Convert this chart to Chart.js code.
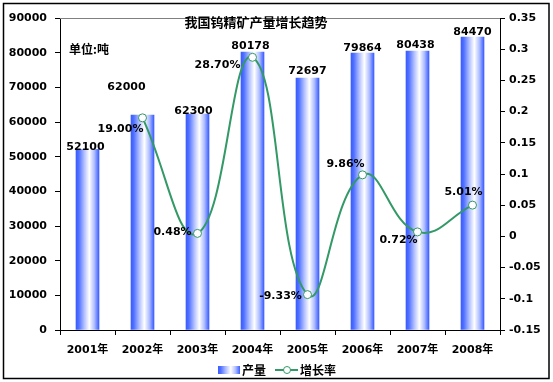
<!DOCTYPE html>
<html>
<head>
<meta charset="utf-8">
<script src="https://cdn.jsdelivr.net/npm/chart.js@4"></script>
<style>
html,body{margin:0;padding:0;background:#fff;}
#wrap{width:553px;height:382px;position:relative;}
</style>
</head>
<body>
<div id="wrap"><canvas id="c" width="553" height="382"></canvas></div>
<script>
// ---- data ----
const categories = ['2001年','2002年','2003年','2004年','2005年','2006年','2007年','2008年'];
const output = [52100, 62000, 62300, 80178, 72697, 79864, 80438, 84470];
const growth = [null, 0.19, 0.0048, 0.287, -0.0933, 0.0986, 0.0072, 0.0501];
const growthLabels = [null, '19.00%', '0.48%', '28.70%', '-9.33%', '9.86%', '0.72%', '5.01%'];
const titleText = '我国钨精矿产量增长趋势';
const unitText = '单位:吨';
const legendNames = ['产量', '增长率'];

// ---- style (label offsets, px) ----
const barLabelOffsets = [[-2,-2],[-16,-27],[-4,-2],[-2,-5],[0,-6],[0,-4],[-2,-6],[0,-5]];
const lineLabelOffsets = [null,[-22,11],[-25,-1],[-35,8],[-27,2],[-17,-11],[-19,8],[-9,-13]];

const GREEN = '#339966';
const FONT = '"DejaVu Sans","Noto Sans CJK SC",sans-serif';
const CJK = '"Noto Sans CJK SC","DejaVu Sans",sans-serif';

function barGradient(ctx, x0, w) {
  const g = ctx.createLinearGradient(x0, 0, x0 + w, 0);
  g.addColorStop(0, '#3a5cff');
  g.addColorStop(0.12, '#4f70ff');
  g.addColorStop(0.35, '#aebdff');
  g.addColorStop(0.58, '#ffffff');
  g.addColorStop(0.8, '#aebdff');
  g.addColorStop(1, '#3a5cff');
  return g;
}

const BAR_W = 23;

const decor = {
  id: 'decor',
  beforeDraw(chart) {
    const {ctx} = chart;
    ctx.save();
    ctx.fillStyle = '#fff';
    ctx.fillRect(0, 0, chart.width, chart.height);
    ctx.restore();
  },
  afterDatasetsDraw(chart) {
    const {ctx, chartArea: a} = chart;
    ctx.save();
    // top plot border
    ctx.strokeStyle = '#808080';
    ctx.lineWidth = 1;
    ctx.beginPath();
    ctx.moveTo(a.left, a.top + 0.5);
    ctx.lineTo(a.right, a.top + 0.5);
    ctx.stroke();
    // outer border
    ctx.strokeStyle = '#000';
    ctx.lineWidth = 1.5;
    ctx.strokeRect(3.5, 3.5, 545.5, 375);
    // title
    ctx.fillStyle = '#000';
    ctx.textAlign = 'center';
    ctx.textBaseline = 'middle';
    ctx.font = 'bold 13px ' + CJK;
    ctx.fillText(titleText, 256, 22);
    ctx.textAlign = 'left';
    ctx.font = 'bold 12px ' + CJK;
    ctx.fillText(unitText, 69, 49);
    // bar labels
    ctx.textAlign = 'center';
    ctx.textBaseline = 'bottom';
    ctx.font = 'bold 11px ' + FONT;
    const m0 = chart.getDatasetMeta(0);
    m0.data.forEach((el, i) => {
      const o = barLabelOffsets[i];
      ctx.fillText(String(output[i]), el.x + o[0], el.y + o[1] + 5);
    });
    // line labels
    ctx.textBaseline = 'middle';
    const m1 = chart.getDatasetMeta(1);
    m1.data.forEach((el, i) => {
      if (growth[i] === null) return;
      const o = lineLabelOffsets[i];
      ctx.fillText(growthLabels[i], el.x + o[0], el.y + o[1]);
    });
    // legend
    const ly = 370;
    ctx.fillStyle = barGradient(ctx, 218, 22);
    ctx.fillRect(218, ly - 4, 22, 8);
    ctx.fillStyle = '#000';
    ctx.textAlign = 'left';
    ctx.font = 'bold 12px ' + CJK;
    ctx.fillText(legendNames[0], 242, ly);
    ctx.strokeStyle = GREEN;
    ctx.lineWidth = 2;
    ctx.beginPath();
    ctx.moveTo(275, ly);
    ctx.lineTo(298, ly);
    ctx.stroke();
    ctx.fillStyle = '#fff';
    ctx.lineWidth = 1;
    ctx.beginPath();
    ctx.arc(287, ly, 3.5, 0, Math.PI * 2);
    ctx.fill();
    ctx.stroke();
    ctx.fillStyle = '#000';
    ctx.fillText(legendNames[1], 300, ly);
    ctx.restore();
  }
};

new Chart(document.getElementById('c'), {
  data: {
    labels: categories,
    datasets: [
      {
        type: 'bar',
        label: legendNames[0],
        data: output,
        yAxisID: 'y',
        order: 2,
        barThickness: BAR_W,
        borderWidth: 0,
        backgroundColor: (c) => {
          const chart = c.chart;
          const xs = chart.scales && chart.scales.x;
          if (!xs || c.dataIndex === undefined) return '#5577ff';
          const cx = xs.getPixelForValue(c.dataIndex);
          if (!isFinite(cx)) return '#5577ff';
          return barGradient(chart.ctx, cx - BAR_W / 2, BAR_W);
        }
      },
      {
        type: 'line',
        label: legendNames[1],
        data: growth,
        yAxisID: 'y1',
        order: 1,
        borderColor: GREEN,
        borderWidth: 2,
        tension: 0.45,
        pointRadius: 4,
        pointBackgroundColor: '#fff',
        pointBorderColor: GREEN,
        pointBorderWidth: 1,
        spanGaps: false
      }
    ]
  },
  options: {
    responsive: false,
    animation: false,
    events: [],
    layout: { padding: { top: 18, bottom: 27, left: 0, right: 0 } },
    plugins: { legend: { display: false }, tooltip: { enabled: false }, title: { display: false } },
    scales: {
      x: {
        offset: true,
        afterFit: s => { s.height = 25; },
        border: { display: true, color: '#000', width: 1 },
        grid: { display: true, drawOnChartArea: false, drawTicks: true, tickLength: 5, color: '#000', offset: true },
        ticks: { color: '#000', font: { family: FONT, weight: 'bold', size: 11 }, padding: 9, maxRotation: 0, autoSkip: false }
      },
      y: {
        position: 'left',
        min: 0, max: 90000,
        afterFit: s => { s.width = 60; },
        border: { display: true, color: '#000', width: 1 },
        grid: { display: true, drawOnChartArea: false, tickLength: 5, color: '#000' },
        ticks: { stepSize: 10000, color: '#000', font: { family: FONT, weight: 'bold', size: 11 }, padding: 8,
                 callback: v => String(Math.round(v)) }
      },
      y1: {
        position: 'right',
        min: -0.15, max: 0.35,
        afterFit: s => { s.width = 53; },
        border: { display: true, color: '#000', width: 1 },
        grid: { display: true, drawOnChartArea: false, tickLength: 5, color: '#000' },
        ticks: { stepSize: 0.05, color: '#000', font: { family: FONT, weight: 'bold', size: 11 }, padding: 4,
                 callback: v => String(+(+v).toFixed(2)) }
      }
    }
  },
  plugins: [decor]
});
</script>
</body>
</html>
